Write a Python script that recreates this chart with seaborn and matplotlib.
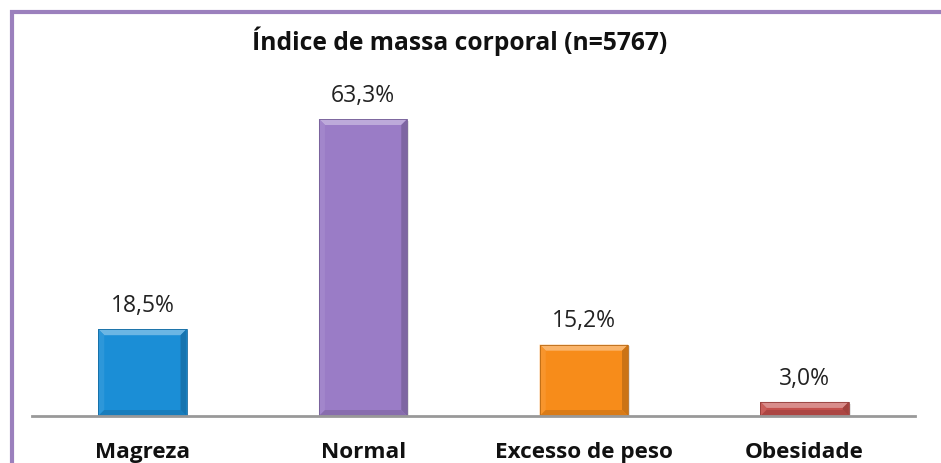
import numpy as np
import pandas as pd
import matplotlib
matplotlib.use("Agg")
import matplotlib.pyplot as plt
import seaborn as sb
from matplotlib.patches import Polygon, Rectangle
from matplotlib.colors import to_rgb

categories = ["Magreza", "Normal", "Excesso de peso", "Obesidade"]
values = [18.5, 63.3, 15.2, 3.0]
value_labels = ["18,5%", "63,3%", "15,2%", "3,0%"]
colors = ["#1b8ed6", "#9a7cc6", "#f78c1a", "#c4504c"]
title = "Índice de massa corporal (n=5767)"

sb.set_style("white")
plt.rcParams['font.family'] = ['Open Sans', 'DejaVu Sans']

df = pd.DataFrame({"cat": categories, "val": values})

W, H = 941, 463
fig = plt.figure(figsize=(W / 100, H / 100), dpi=100)
ymax = 70
px_per_unit = 297 / 63.3
ax = fig.add_axes([32 / W, 47 / H, 883 / W, ymax * px_per_unit / H])

sb.barplot(data=df, x="cat", y="val", hue="cat", palette=colors, legend=False,
           width=0.40, ax=ax, saturation=1, linewidth=0)
ax.set_xlim(-0.5, 3.5)
ax.set_ylim(0, ymax)


def shade(c, f):
    r = np.array(to_rgb(c))
    if f > 0:
        return tuple(r + (1 - r) * f)
    return tuple(r * (1 + f))


# bevel edges on each bar
bx = 6 / 220.75
by = 6 / px_per_unit
bars = list(ax.patches)
for p, c in zip(bars, colors):
    x0, y0 = p.get_x(), p.get_y()
    w, h = p.get_width(), p.get_height()
    x1, y1 = x0 + w, y0 + h
    # soft shadow
    ax.add_patch(Rectangle((x0 + 0.008, y0), w, h - by * 0.3, color=(0, 0, 0, 0.10),
                           zorder=p.get_zorder() - 0.1, lw=0))
    polys = [
        ([(x0, y1), (x1, y1), (x1 - bx, y1 - by), (x0 + bx, y1 - by)], shade(c, 0.35)),
        ([(x0, y0), (x0, y1), (x0 + bx, y1 - by), (x0 + bx, y0 + by)], shade(c, 0.08)),
        ([(x1, y0), (x1, y1), (x1 - bx, y1 - by), (x1 - bx, y0 + by)], shade(c, -0.18)),
        ([(x0, y0), (x1, y0), (x1 - bx, y0 + by), (x0 + bx, y0 + by)], shade(c, -0.12)),
    ]
    for pts, col in polys:
        ax.add_patch(Polygon(pts, closed=True, color=col, lw=0, zorder=p.get_zorder() + 0.1))
    ax.add_patch(Rectangle((x0, y0), w, h, fill=False, ec=shade(c, -0.25), lw=0.6,
                           zorder=p.get_zorder() + 0.2))

for p, lab in zip(bars, value_labels):
    ax.annotate(lab, (p.get_x() + p.get_width() / 2, p.get_height()),
                xytext=(0, 12.5), textcoords="offset points", ha="center", va="baseline",
                fontsize=16.5, color="#222222")

sb.despine(ax=ax, left=True, right=True, top=True)
ax.spines["bottom"].set_color("#999999")
ax.spines["bottom"].set_linewidth(2)
ax.set_yticks([])
ax.tick_params(axis="x", length=0, pad=19)
ax.set_xticks(range(len(categories)))
ax.set_xticklabels(categories, fontsize=16.2, fontweight="bold", color="#111111")
ax.set_xlabel("")
ax.set_ylabel("")

fig.text(459.5 / W, 1 - 50 / H, title, ha="center", va="baseline",
         fontsize=17.7, fontweight="bold", color="#111111")

# purple frame (top and left edges visible)
frame = Rectangle((11.5 / W, -0.1), 1.2, 1 - 11.5 / H + 0.1, transform=fig.transFigure,
                  fill=False, ec="#9b80bd", lw=3, zorder=10)
fig.add_artist(frame)

fig.savefig("out.png", dpi=100)
